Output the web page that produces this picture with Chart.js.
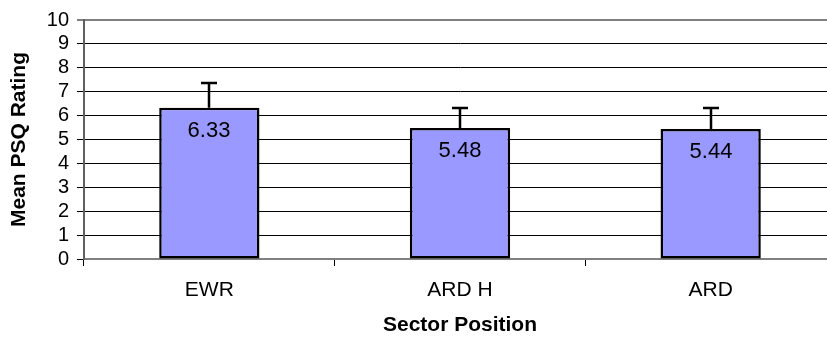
<!DOCTYPE html>
<html>
<head>
<meta charset="utf-8">
<script src="https://cdn.jsdelivr.net/npm/chart.js@4.4.1/dist/chart.umd.min.js"></script>
<style>
  html, body { margin: 0; padding: 0; background: #fff; overflow: hidden; }
  #psqChart { display: block; }
</style>
</head>
<body>
<canvas id="psqChart" width="840" height="338"></canvas>
<script>
// data
const sectors = ["EWR", "ARD H", "ARD"];
const meanRatings = [6.33, 5.48, 5.44];
const errorPlus = [1.03, 0.84, 0.89];
const yMin = 0;
const yMax = 10;
const yStep = 1;

const FONT = "'Liberation Sans', Arial, sans-serif";

// draws the upper error bars and the value labels inside each bar
const errorBarsAndLabels = {
  id: "errorBarsAndLabels",
  afterDatasetsDraw(chart) {
    const ctx = chart.ctx;
    const yScale = chart.scales.y;
    const meta = chart.getDatasetMeta(0);
    meta.data.forEach((bar, i) => {
      const x = Math.round(bar.x);
      const top = bar.y;
      const errTop = Math.round(yScale.getPixelForValue(meanRatings[i] + errorPlus[i]));
      ctx.save();
      ctx.strokeStyle = "#000";
      ctx.lineWidth = 2.5;
      ctx.beginPath();
      ctx.moveTo(x, top);
      ctx.lineTo(x, errTop);
      ctx.moveTo(x - 8, errTop);
      ctx.lineTo(x + 8, errTop);
      ctx.stroke();
      ctx.fillStyle = "#000";
      ctx.font = "22px " + FONT;
      ctx.textAlign = "center";
      ctx.textBaseline = "middle";
      ctx.fillText(meanRatings[i].toFixed(2), x, top + 23);
      ctx.restore();
    });
  },
};

const ctx = document.getElementById("psqChart").getContext("2d");
new Chart(ctx, {
  type: "bar",
  data: {
    labels: sectors,
    datasets: [
      {
        data: meanRatings,
        backgroundColor: "#9999FF",
        borderColor: "#000",
        borderWidth: 2.5,
        borderSkipped: false,
        barPercentage: 0.4,
        categoryPercentage: 1.0,
      },
    ],
  },
  options: {
    responsive: false,
    animation: false,
    layout: { padding: { top: 17, right: 4, left: 0, bottom: 0 } },
    plugins: {
      legend: { display: false },
      tooltip: { enabled: false },
    },
    scales: {
      x: {
        afterFit: (scale) => { scale.height = 79; },
        grid: {
          drawOnChartArea: false,
          drawTicks: true,
          tickLength: 7,
          color: "#000",
        },
        border: { color: "#808080", width: 2 },
        ticks: {
          color: "#000",
          padding: 12,
          font: { family: FONT, size: 21 },
        },
        title: {
          display: true,
          text: "Sector Position",
          color: "#000",
          padding: { top: 0, bottom: 0 },
          font: { family: FONT, size: 21, weight: "bold" },
        },
      },
      y: {
        min: yMin,
        max: yMax,
        afterFit: (scale) => { scale.width = 84; },
        grid: {
          color: (c) => (c.tick && c.tick.value === yMax ? "#808080" : "#000"),
          lineWidth: (c) => (c.tick && c.tick.value === yMax ? 2 : 1),
          tickLength: 7,
          tickColor: "#000",
          tickWidth: 1,
        },
        border: { color: "#606060", width: 2 },
        ticks: {
          stepSize: yStep,
          autoSkip: false,
          color: "#000",
          padding: 8,
          font: { family: FONT, size: 20 },
        },
        title: {
          display: true,
          text: "Mean PSQ Rating",
          color: "#000",
          padding: { top: 7, bottom: 0 },
          font: { family: FONT, size: 21, weight: "bold" },
        },
      },
    },
  },
  plugins: [errorBarsAndLabels],
});
</script>
</body>
</html>
